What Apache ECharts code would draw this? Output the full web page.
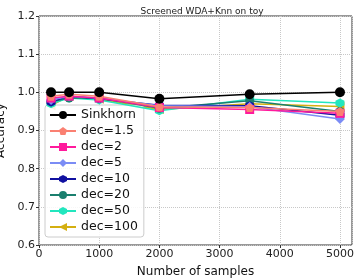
<!DOCTYPE html>
<html><head><meta charset="utf-8">
<script src="https://cdn.jsdelivr.net/npm/echarts@6/dist/echarts.min.js"></script>
<style>html,body{margin:0;padding:0;background:#fff}#c{width:360px;height:278px}</style>
</head><body><div id="c"></div>
<script>
const samples = [200, 500, 1000, 2000, 3500, 5000];
const seriesNames = ['Sinkhorn','dec=1.5','dec=2','dec=5','dec=10','dec=20','dec=50','dec=100'];
const sinkhorn = [1.0, 1.0, 1.0, 0.983, 0.995, 1.0];
const dec1_5 = [0.99, 0.995, 0.99, 0.962, 0.96, 0.95];
const dec2 = [0.985, 0.99, 0.985, 0.96, 0.955, 0.945];
const dec5 = [0.98, 0.99, 0.985, 0.965, 0.962, 0.93];
const dec10 = [0.975, 0.99, 0.983, 0.966, 0.965, 0.94];
const dec20 = [0.975, 0.985, 0.985, 0.958, 0.978, 0.95];
const dec50 = [0.97, 0.985, 0.98, 0.952, 0.982, 0.972];
const dec100 = [0.965, 0.99, 0.982, 0.955, 0.97, 0.963];
const xTicks = [0, 1000, 2000, 3000, 4000, 5000];
const yTicks = [0.6, 0.7, 0.8, 0.9, 1.0, 1.1, 1.2];

const values = [sinkhorn, dec1_5, dec2, dec5, dec10, dec20, dec50, dec100];
const colors = ['#000000','#fa8072','#ff1a9c','#7b8cf5','#1010a0','#1a7f6e','#22e6be','#d4af10'];
const hex = 'path://M50,0 L93.3,25 L93.3,75 L50,100 L6.7,75 L6.7,25 Z';
const pent = 'path://M50,0 L97.6,34.5 L79.4,90.5 L20.6,90.5 L2.4,34.5 Z';
const symbols = ['circle', pent, 'rect', 'diamond', hex, 'circle', hex, 'triangle'];
const sizes = [10, 9, 9, 10, 9, 9, 9, 9];
const rot = [0,0,0,0,0,0,0,90];

const chart = echarts.init(document.getElementById('c'));
const series = seriesNames.map((n,i)=>({
  name: n, type:'line',
  data: samples.map((s,j)=>[s, values[i][j]]),
  symbol: symbols[i], symbolSize: sizes[i], symbolRotate: rot[i],
  showAllSymbol:true,
  itemStyle:{color:colors[i]},
  lineStyle:{color:colors[i], width:1.5},
  z: 10 - i
}));
chart.setOption({
  animation:false,
  title:{text:'Screened WDA+Knn on toy', left:197, top:2, textAlign:'center',
    textStyle:{fontSize:9, fontWeight:'normal', color:'#222', fontFamily:'DejaVu Sans'}},
  grid:{left:39, right:8, top:16, bottom:33, show:true, borderColor:'#333', borderWidth:1,
    backgroundColor:'transparent', containLabel:false, outerBoundsMode:'none'},
  legend:{
    orient:'vertical', left:45, top:105, itemGap:2, itemWidth:26, itemHeight:10,
    backgroundColor:'rgba(255,255,255,0.85)', borderColor:'#ccc', borderWidth:1, borderRadius:3,
    padding:[3,6,3,4],
    textStyle:{fontSize:12.5, lineHeight:14, height:14, color:'#111', fontFamily:'DejaVu Sans'},
    data: seriesNames
  },
  xAxis:{type:'value', min:0, max:5200, interval:1000,
    name:'Number of samples', nameLocation:'middle', nameGap:21,
    nameTextStyle:{fontSize:12, color:'#111', fontFamily:'DejaVu Sans'},
    axisLine:{show:false}, axisTick:{show:true, length:3, lineStyle:{color:'#333'}},
    axisLabel:{fontSize:11, color:'#222', fontFamily:'DejaVu Sans', margin:4, showMaxLabel:false,
      formatter:v=>{const t=xTicks.find(x=>Math.abs(x-v)<1e-6); return t!==undefined?String(t):'';}},
    splitLine:{show:true, lineStyle:{type:'dotted', color:'#c8c8c8'}}},
  yAxis:{type:'value', min:0.6, max:1.2, interval:0.1,
    name:'Accuracy', nameLocation:'middle', nameGap:25,
    nameTextStyle:{fontSize:12, color:'#111', fontFamily:'DejaVu Sans'},
    axisLine:{show:false}, axisTick:{show:true, length:3, lineStyle:{color:'#333'}},
    axisLabel:{fontSize:11, color:'#222', fontFamily:'DejaVu Sans', margin:4,
      formatter:v=>{const t=yTicks.find(x=>Math.abs(x-v)<1e-6); return (t!==undefined?t:v).toFixed(1);}},
    splitLine:{show:true, lineStyle:{type:'dotted', color:'#c8c8c8'}}},
  series: series
});
</script></body></html>
